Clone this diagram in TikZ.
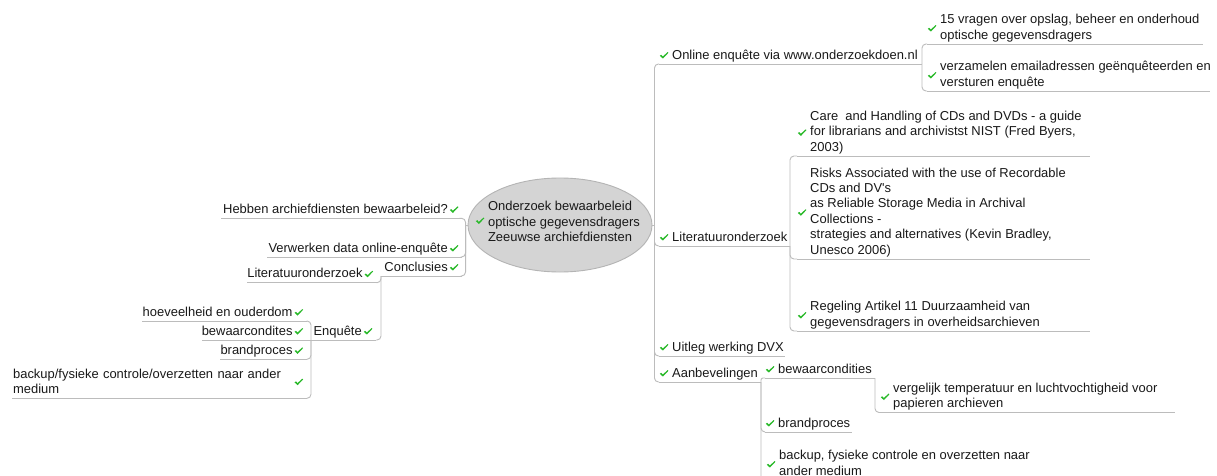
\documentclass[tikz,border=0pt]{standalone}
\usepackage{fontspec}
\setmainfont{Liberation Sans}
\usetikzlibrary{calc,shapes.geometric}
\definecolor{lncol}{RGB}{188,188,188}
\definecolor{chkcol}{RGB}{40,185,40}
\definecolor{rootfill}{RGB}{212,212,212}
\definecolor{rootdraw}{RGB}{180,180,180}
\definecolor{txt}{RGB}{25,25,25}
\tikzset{
  ln/.style={draw=lncol, line width=0.9pt, rounded corners=4pt},
  basetopic/.style={inner sep=0pt, font=\fontsize{12.95}{15.4}\selectfont, text=txt,
    execute at begin node=\strut, execute at end node=\strut},
  rtopic/.style={basetopic, anchor=south west, align=left},
  ltopic/.style={basetopic, anchor=south east, align=right},
  chk/.pic={\fill[chkcol] (-4.2,0.1) -- (-2.7,-0.8) -- (-1.2,0.9) -- (3.6,-3.5) -- (4.4,-2.8) -- (-1.1,3.0) -- cycle;},
}
\newcommand\ulR[2]{%
  \draw[ln] ($(#1.south west)+(-13,0)$) coordinate (#1-l) -- ($(#1.south west)+(#2,0)$) coordinate (#1-r);
  \pic at ($(#1.west)+(-8,-0.5)$) {chk};}
\newcommand\ulL[2]{%
  \draw[ln] ($(#1.south east)+(14,0)$) coordinate (#1-r) -- ($(#1.south east)+(-#2,0)$) coordinate (#1-l);
  \pic at ($(#1.east)+(6,-0.5)$) {chk};}
\begin{document}
\begin{tikzpicture}[x=1pt,y=-1pt]
\useasboundingbox (0,0) rectangle (1217,476);
\clip (0,0) rectangle (1217,476);
\fill[white] (0,0) rectangle (1217,476);

% root
\node[ellipse, draw=rootdraw, fill=rootfill, line width=0.9pt, minimum width=184pt, minimum height=94pt,
  inner sep=0pt, font=\fontsize{12.95}{15.4}\selectfont, text=txt] (root) at (560,225)
  {\makebox[0pt][c]{\hspace{8pt}\begin{tabular}[b]{@{}l@{}}Onderzoek bewaarbeleid\\optische gegevensdragers\\Zeeuwse archiefdiensten\end{tabular}}\rule[-8pt]{0pt}{8pt}};
\pic at ($(root.center)+(-80,-4)$) {chk};

% right side
\node[rtopic] (on) at (672,64) {Online enquête via www.onderzoekdoen.nl};
\node[rtopic] (lit) at (672,246) {Literatuuronderzoek};
\node[rtopic] (uit) at (672,356) {Uitleg werking DVX};
\node[rtopic] (aan) at (672,382) {Aanbevelingen};
\node[rtopic] (q15) at (940,44) {15 vragen over opslag, beheer en onderhoud\\optische gegevensdragers};
\node[rtopic] (ver) at (940,91) {verzamelen emailadressen geënquêteerden en\\versturen enquête};
\node[rtopic] (care) at (810,156) {Care\ \ and Handling of CDs and DVDs - a guide\\for librarians and archivistst NIST (Fred Byers,\\2003)};
\node[rtopic] (risks) at (810,259) {Risks Associated with the use of Recordable\\CDs and DV\textquotesingle s\\as Reliable Storage Media in Archival\\Collections -\\strategies and alternatives (Kevin Bradley,\\Unesco 2006)};
\node[rtopic] (reg) at (810,331) {Regeling Artikel 11 Duurzaamheid van\\gegevensdragers in overheidsarchieven};
\node[rtopic] (bew) at (778,378) {bewaarcondities};
\node[rtopic] (verg) at (893,412.5) {vergelijk temperatuur en luchtvochtigheid voor\\papieren archieven};
\node[rtopic] (brand) at (778,432) {brandproces};
\node[rtopic] (backR) at (779,480) {backup, fysieke controle en overzetten naar\\ander medium};

% left side
\node[ltopic] (heb) at (448,218.3) {Hebben archiefdiensten bewaarbeleid?};
\node[ltopic] (verw) at (448,257) {Verwerken data online-enquête};
\node[ltopic] (concl) at (448,276) {Conclusies};
\node[ltopic] (litL) at (362.7,282.7) {Literatuuronderzoek};
\node[ltopic] (enq) at (362,340) {Enquête};
\node[ltopic] (hoev) at (292.7,321) {hoeveelheid en ouderdom};
\node[ltopic] (bewL) at (292.7,340) {bewaarcondites};
\node[ltopic] (brandL) at (292.7,359.3) {brandproces};
\node[ltopic, align=left, text width=279.4pt] (backL) at (292.7,398.3) {backup/fysieke controle/overzetten naar ander\\medium};

% underlines and checks
\ulR{on}{250} \ulR{lit}{118} \ulR{uit}{113} \ulR{aan}{89}
\ulR{q15}{263} \ulR{ver}{270}
\ulR{care}{280} \ulR{risks}{280} \ulR{reg}{280}
\ulR{bew}{97} \ulR{verg}{282} \ulR{brand}{74} \ulR{backR}{275}
\ulL{heb}{226.6} \ulL{verw}{181} \ulL{concl}{67} \ulL{litL}{116} \ulL{enq}{51}
\ulL{hoev}{151} \ulL{bewL}{91} \ulL{brandL}{72.7} \ulL{backL}{280.7}

% connectors
\coordinate (Rr) at ($(root.east)+(2,0)$);
\coordinate (Rl) at ($(root.west)+(-2,0)$);
\draw[ln] (root.east) -- (Rr);
\draw[ln] (root.west) -- (Rl);
\foreach \c in {on,lit,uit,aan} \draw[ln] (Rr) |- (\c-l);
\foreach \c in {heb,verw,concl} \draw[ln] (Rl) |- (\c-r);
\foreach \c in {q15,ver} \draw[ln] (on-r) |- (\c-l);
\foreach \c in {care,risks,reg} \draw[ln] (lit-r) |- (\c-l);
\draw[ln, rounded corners=2pt] (aan-r) |- (bew-l);
\foreach \c in {brand,backR} \draw[ln] (aan-r) |- (\c-l);
\draw[ln] (bew-r) |- (verg-l);
\foreach \c in {litL,enq} \draw[ln] (concl-l) |- (\c-r);
\foreach \c in {hoev,brandL,backL} \draw[ln] (enq-l) |- (\c-r);
\draw[ln] (enq-l) -- (bewL-r);
\end{tikzpicture}
\end{document}
